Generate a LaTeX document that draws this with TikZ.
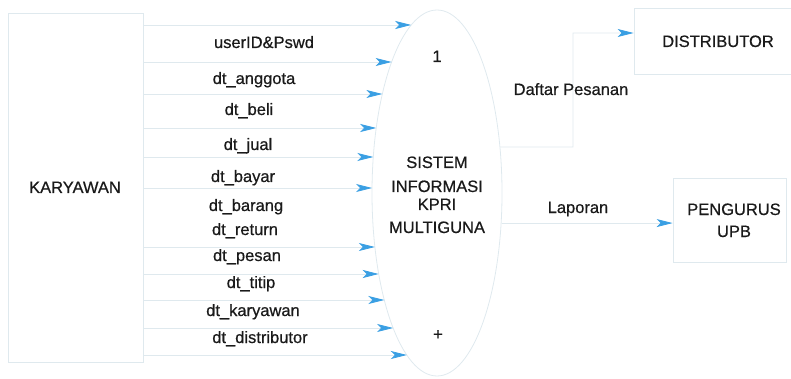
\documentclass[tikz,border=0pt]{standalone}
\usepackage{fontspec}
\setmainfont{Liberation Sans}
\usetikzlibrary{arrows.meta,shapes.geometric}
\definecolor{linegray}{HTML}{DFE9EE}
\definecolor{arrowblue}{HTML}{3A9FE3}
\definecolor{ink}{HTML}{1A1A1A}
\begin{document}
\begin{tikzpicture}[x=1pt,y=-1pt,
  every node/.style={font=\fontsize{16.5}{22}\selectfont\addfontfeature{FakeBold=0.6},
    text=ink, inner sep=0pt},
  entity/.style={draw=linegray, line width=0.8pt, rectangle},
  process/.style={draw=linegray, line width=0.8pt, ellipse},
  flow/.style={draw=linegray, line width=0.8pt,
    -{Stealth[color=arrowblue, length=16pt, width=8pt, inset=4pt]}},
  lbl/.style={anchor=base}]
\useasboundingbox (0,0) rectangle (791,379);

% external entities and the process
\node[entity, minimum width=135pt, minimum height=349pt] (kary) at (75.5,187.5) {};
\node[lbl] (karytxt) at (75,193) {KARYAWAN};
\node[process, minimum width=130pt, minimum height=366pt] (sys) at (437,193) {};
\node[entity, minimum width=168pt, minimum height=66pt] (dist) at (718,41) {};
\node[lbl] (disttxt) at (718,47) {DISTRIBUTOR};
\node[entity, minimum width=113pt, minimum height=84pt] (peng) at (729.5,220) {};
\node[lbl] (peng1) at (734,215) {PENGURUS};
\node[lbl] (peng2) at (734,237) {UPB};

% process texts
\node[lbl] (pnum) at (437,62) {1};
\node[lbl] (pt1) at (437,168) {SISTEM};
\node[lbl] (pt2) at (437,192) {INFORMASI};
\node[lbl] (pt3) at (437,210) {KPRI};
\node[lbl] (pt4) at (437,233) {MULTIGUNA};
\node (plus) at (438,335) {+};

% input flows from KARYAWAN, each ending on the ellipse border
\foreach \y in {25,62,94,128,157,188,247,274,300,328,355} {
  \pgfmathsetmacro\ex{437-65*sqrt(1-((\y-193)/183)^2)}
  \draw[flow] (kary.east |- 0,\y) -- (\ex,\y);
}

% flow labels
\node[lbl] (f1)  at (264,48)  {userID\&Pswd};
\node[lbl] (f2)  at (254,84)  {dt\_anggota};
\node[lbl] (f3)  at (249,115) {dt\_beli};
\node[lbl] (f4)  at (248,150) {dt\_jual};
\node[lbl] (f5)  at (243,182) {dt\_bayar};
\node[lbl] (f6)  at (246,211) {dt\_barang};
\node[lbl] (f7)  at (245,235) {dt\_return};
\node[lbl] (f8)  at (247,261) {dt\_pesan};
\node[lbl] (f9)  at (251,288) {dt\_titip};
\node[lbl] (f10) at (253,316) {dt\_karyawan};
\node[lbl] (f11) at (260,343) {dt\_distributor};

% output flows
\coordinate (bendA) at (573,147);
\coordinate (bendB) at (573,33);
\draw[flow] (sys.36) -- (bendA) -- (bendB) -- (dist.west |- bendB);
\node[lbl] (daftar) at (571,95) {Daftar Pesanan};

\draw[flow] (sys.-25) -- (peng.west |- sys.-25);
\node[lbl] (lap) at (578,213) {Laporan};
\end{tikzpicture}
\end{document}
